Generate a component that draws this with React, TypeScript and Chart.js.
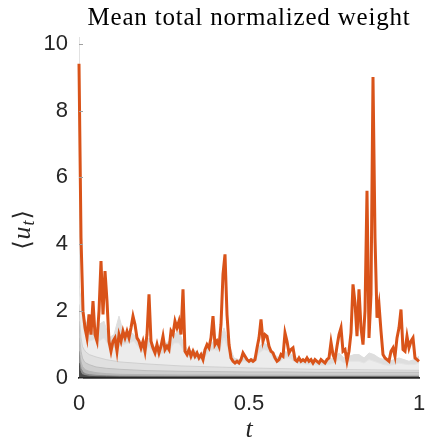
import React, { useEffect, useRef } from "react";
import { Chart, registerables } from "chart.js";

Chart.register(...registerables);

// ---------- data ----------
const TITLE = "Mean total normalized weight";
const xTickValues = [0, 0.5, 1];
const yTickValues = [0, 2, 4, 6, 8, 10];

// orange series: mean total normalized weight, sampled on a uniform grid of 171 times in [0,1]
const orangeValues = [
  9.4, 4.2, 2.0, 1.5, 1.2, 1.9, 1.3, 2.3, 1.3, 1.1,
  2.0, 3.5, 1.9, 3.2, 2.3, 1.1, 0.8, 1.1, 1.2, 0.8,
  1.3, 1.1, 1.4, 1.2, 1.4, 1.2, 1.5, 1.85, 1.6, 1.2,
  1.1, 0.9, 1.1, 0.8, 1.3, 2.5, 1.1, 0.9, 0.75, 1.0,
  0.75, 0.95, 1.25, 0.85, 0.95, 0.85, 1.4, 1.3, 1.7, 1.5,
  1.7, 1.3, 2.65, 0.8, 0.7, 0.85, 0.65, 0.8, 0.65, 0.75,
  0.6, 0.7, 0.55, 0.85, 1.0, 0.9, 1.2, 1.85, 1.0, 1.1,
  0.95, 1.6, 3.1, 3.7, 1.9, 1.0, 0.6, 0.5, 0.45, 0.5,
  0.45, 0.55, 0.75, 0.65, 0.55, 0.5, 0.55, 0.5, 0.55, 0.9,
  1.2, 1.75, 1.1, 1.3, 1.25, 0.95, 0.8, 0.75, 0.6, 0.5,
  0.55, 0.7, 0.65, 1.35, 1.1, 0.75, 0.85, 0.9, 0.55, 0.5,
  0.6, 0.5, 0.55, 0.5, 0.6, 0.5, 0.55, 0.45, 0.55, 0.5,
  0.45, 0.55, 0.5, 0.45, 0.55, 0.6, 1.07, 0.7, 0.55, 0.95,
  1.3, 1.5, 0.8, 0.85, 0.5, 0.8, 1.35, 2.8, 2.25, 1.25,
  2.65, 1.5, 1.0, 2.0, 5.6, 1.2, 2.5, 9.0, 4.2, 1.8,
  2.2, 1.4, 0.7, 0.6, 0.55, 0.5, 0.8, 0.9, 0.65, 1.2,
  1.5, 2.05, 0.85, 0.8, 1.25, 0.9, 1.1, 1.2, 0.6, 0.55,
  0.5,
];

// light gray layers, sampled on a uniform grid of 69 times in [0,1]
const envelopeValues = [
  2.75, 1.8, 1.5, 1.4, 1.6, 1.7, 1.2, 1.3, 1.85, 1.3,
  1.4, 1.3, 1.1, 1.0, 1.2, 0.95, 0.9, 1.0, 1.1, 1.3,
  1.4, 1.0, 0.8, 0.85, 0.7, 0.8, 1.0, 1.1, 1.05, 1.5,
  1.0, 0.6, 0.55, 0.65, 0.55, 0.6, 0.95, 1.05, 0.95, 0.7,
  0.6, 0.8, 0.75, 0.65, 0.55, 0.55, 0.5, 0.55, 0.5, 0.5,
  0.55, 0.6, 0.75, 0.6, 0.65, 0.7, 0.7, 0.6, 0.75, 0.7,
  0.6, 0.55, 0.5, 0.55, 0.6, 0.55, 0.5, 0.55, 0.65,
];
const lightFillValues = [
  2.7, 1.4, 1.1, 1.15, 1.1, 1.2, 0.95, 0.9, 0.95, 1.0,
  1.05, 1.1, 0.9, 0.75, 0.95, 0.75, 0.7, 0.75, 0.8, 1.05,
  1.05, 0.8, 0.6, 0.6, 0.55, 0.6, 0.8, 0.85, 0.8, 1.2,
  0.8, 0.45, 0.42, 0.5, 0.45, 0.45, 0.75, 0.85, 0.8, 0.55,
  0.45, 0.6, 0.6, 0.5, 0.42, 0.42, 0.4, 0.4, 0.38, 0.38,
  0.4, 0.45, 0.55, 0.45, 0.5, 0.5, 0.5, 0.45, 0.55, 0.5,
  0.45, 0.4, 0.38, 0.4, 0.45, 0.42, 0.4, 0.4, 0.45,
];

// darker bottom layers, on a non-uniform time grid
const tDark = [0, 0.003, 0.006, 0.01, 0.015, 0.02, 0.03, 0.05, 0.08, 0.12, 0.2, 0.3, 0.4, 0.5, 0.6, 0.7, 0.8, 0.9, 1];
const band3Values = [2.2, 1.6, 1.2, 0.95, 0.85, 0.78, 0.7, 0.63, 0.55, 0.48, 0.42, 0.36, 0.33, 0.3, 0.28, 0.26, 0.25, 0.24, 0.23];
const band4Values = [1.7, 1.1, 0.8, 0.6, 0.5, 0.45, 0.4, 0.33, 0.29, 0.26, 0.22, 0.2, 0.19, 0.18, 0.18, 0.17, 0.17, 0.17, 0.17];
const band5Values = [1.2, 0.7, 0.48, 0.35, 0.28, 0.24, 0.2, 0.16, 0.13, 0.11, 0.1, 0.09, 0.09, 0.085, 0.085, 0.08, 0.08, 0.08, 0.08];
const band6Values = [0.8, 0.42, 0.28, 0.2, 0.15, 0.12, 0.1, 0.08, 0.065, 0.055, 0.05, 0.048, 0.046, 0.045, 0.044, 0.043, 0.042, 0.041, 0.04];
const band7Values = [0.45, 0.22, 0.14, 0.1, 0.08, 0.065, 0.05, 0.04, 0.035, 0.03, 0.028, 0.027, 0.026, 0.026, 0.025, 0.025, 0.025, 0.025, 0.025];

const tOrange = orangeValues.map((_, i) => i / (orangeValues.length - 1));
const tLight = lightFillValues.map((_, i) => i / (lightFillValues.length - 1));

const toPoints = (ts: number[], ys: number[]) => ys.map((y, i) => ({ x: ts[i], y }));

const labelsPlugin = {
  id: "labelsPlugin",
  afterDraw(chart: any) {
    const { ctx, chartArea } = chart;
    const yScale = chart.scales.y;
    ctx.save();
    // inward y ticks
    ctx.strokeStyle = "#a0a0a0";
    ctx.lineWidth = 1;
    for (const v of yTickValues) {
      const py = Math.round(yScale.getPixelForValue(v)) + 0.5;
      ctx.beginPath();
      ctx.moveTo(chartArea.left, py);
      ctx.lineTo(chartArea.left + 4, py);
      ctx.stroke();
    }
    // title
    const cx = (chartArea.left + chartArea.right) / 2;
    ctx.fillStyle = "#000";
    ctx.font = '25px "Liberation Serif", serif';
    ctx.textAlign = "center";
    ctx.textBaseline = "alphabetic";
    try { (ctx as any).letterSpacing = "0.8px"; } catch (e) {}
    ctx.fillText(TITLE, cx, 25);
    try { (ctx as any).letterSpacing = "0px"; } catch (e) {}
    // x label
    ctx.font = 'italic 26px "Liberation Serif", serif';
    ctx.fillStyle = "#262626";
    ctx.fillText("t", cx, 437);
    // y label ⟨u_t⟩
    const cy = (chartArea.top + chartArea.bottom) / 2 + 22;
    ctx.translate(30, cy);
    ctx.rotate(-Math.PI / 2);
    const parts = [
      { s: "\u27E8", f: '24px "DejaVu Serif", serif', dy: 0 },
      { s: "u", f: 'italic 26px "Liberation Serif", serif', dy: 0 },
      { s: "t", f: 'italic 18px "Liberation Serif", serif', dy: 4 },
      { s: "\u27E9", f: '24px "DejaVu Serif", serif', dy: 0 },
    ];
    let total = 0;
    for (const p of parts) { ctx.font = p.f; total += ctx.measureText(p.s).width + 1; }
    let x = -total / 2;
    ctx.textAlign = "left";
    for (const p of parts) {
      ctx.font = p.f;
      ctx.fillText(p.s, x, p.dy);
      x += ctx.measureText(p.s).width + 1;
    }
    ctx.restore();
  },
};

export default function App() {
  const ref = useRef<HTMLCanvasElement | null>(null);
  useEffect(() => {
    if (!ref.current) return;
    const fillLayer = (data: any, color: string, border: string, order: number) => ({
      data,
      borderColor: border,
      backgroundColor: color,
      borderWidth: 1,
      fill: "origin",
      pointRadius: 0,
      tension: 0,
      order,
    });
    const chart = new Chart(ref.current, {
      type: "line",
      data: {
        datasets: [
          {
            data: toPoints(tOrange, orangeValues),
            borderColor: "#D95319",
            backgroundColor: "#D95319",
            borderWidth: 3,
            pointRadius: 0,
            tension: 0,
            fill: false,
            order: 0,
            clip: 6,
          } as any,
          fillLayer(toPoints(tDark, band7Values), "#4a4a4a", "#4a4a4a", 1),
          fillLayer(toPoints(tDark, band6Values), "#8a8a8a", "#8a8a8a", 2),
          fillLayer(toPoints(tDark, band5Values), "#b5b5b5", "#b5b5b5", 3),
          fillLayer(toPoints(tDark, band4Values), "#cecece", "#bebebe", 4),
          fillLayer(toPoints(tDark, band3Values), "#e0e0e0", "#d0d0d0", 5),
          fillLayer(toPoints(tLight, lightFillValues), "#ececec", "#e4e4e4", 6),
          fillLayer(toPoints(tLight, envelopeValues), "#dedede", "#dedede", 7),
        ],
      },
      options: {
        animation: false,
        responsive: false,
        maintainAspectRatio: false,
        layout: { padding: { top: 37, right: 8, left: 0, bottom: 0 } },
        plugins: { legend: { display: false }, tooltip: { enabled: false }, title: { display: false } },
        scales: {
          x: {
            type: "linear",
            min: 0,
            max: 1,
            afterFit: (s: any) => { s.height = 68; s.paddingLeft = 0; s.paddingRight = 0; },
            afterBuildTicks: (s: any) => { s.ticks = xTickValues.map((v) => ({ value: v })); },
            grid: { display: false, drawTicks: false },
            border: { display: true, color: "#262626", width: 1.8, z: 1 },
            ticks: {
              padding: 13,
              color: "#262626",
              font: { family: '"Liberation Sans", Arial, sans-serif', size: 22 },
              maxRotation: 0,
              callback: (v: any) => String(v),
            },
          },
          y: {
            type: "linear",
            min: 0,
            max: 10.2,
            afterFit: (s: any) => { s.width = 79; s.paddingTop = 0; s.paddingBottom = 0; },
            afterBuildTicks: (s: any) => { s.ticks = yTickValues.map((v) => ({ value: v })); },
            grid: { display: false, drawTicks: false },
            border: { display: true, color: "#e2e2e2", width: 1 },
            ticks: {
              padding: 11,
              color: "#262626",
              font: { family: '"Liberation Sans", Arial, sans-serif', size: 22 },
              callback: (v: any) => String(v),
            },
          },
        },
      } as any,
      plugins: [labelsPlugin],
    });
    return () => chart.destroy();
  }, []);
  return (
    <div style={{ position: "fixed", left: 0, top: 0, width: 427, height: 446, background: "#fff" }}>
      <canvas ref={ref} width={427} height={446} style={{ width: 427, height: 446, display: "block" }} />
    </div>
  );
}
